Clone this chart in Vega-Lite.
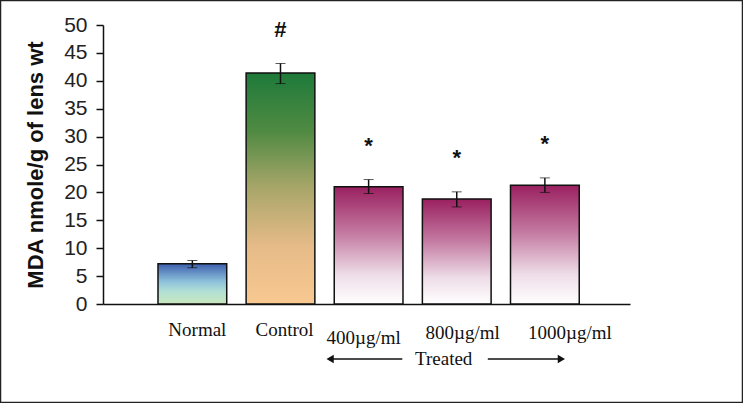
{
  "$schema": "https://vega.github.io/schema/vega-lite/v6.json",
  "width": 743,
  "height": 403,
  "autosize": {"type": "none"},
  "padding": 0,
  "background": "white",
  "config": {"view": {"stroke": "#222", "strokeWidth": 2.5}, "font": "Liberation Sans"},
  "data": {
    "values": [
      {"dose": "Normal", "group": "Normal", "mean": 7.2, "lo": 6.5, "hi": 7.8, "sig": ""},
      {"dose": "Control", "group": "Control", "mean": 41.4, "lo": 39.5, "hi": 43.1, "sig": "#"},
      {"dose": "400µg/ml", "group": "Treated", "mean": 21.0, "lo": 19.8, "hi": 22.3, "sig": "*"},
      {"dose": "800µg/ml", "group": "Treated", "mean": 18.8, "lo": 17.4, "hi": 20.1, "sig": "*"},
      {"dose": "1000µg/ml", "group": "Treated", "mean": 21.3, "lo": 20.0, "hi": 22.6, "sig": "*"}
    ]
  },
  "encoding": {
    "x": {
      "field": "dose",
      "type": "nominal",
      "sort": null,
      "scale": {"range": [103, 630], "paddingInner": 0.22, "paddingOuter": 0.6, "align": 0.52},
      "axis": {
        "orient": "bottom",
        "offset": -99,
        "title": null,
        "ticks": false,
        "labels": false,
        "domainColor": "#111",
        "domainWidth": 1.5
      }
    },
    "y": {
      "field": "mean",
      "type": "quantitative",
      "title": "MDA nmole/g of lens wt",
      "scale": {"domain": [0, 50], "range": [304, 25], "nice": false},
      "axis": {
        "values": [0, 5, 10, 15, 20, 25, 30, 35, 40, 45, 50],
        "offset": -103,
        "grid": false,
        "domainColor": "#111",
        "domainWidth": 1.5,
        "tickColor": "#111",
        "tickWidth": 1.5,
        "tickSize": 7,
        "labelFont": "Liberation Sans",
        "labelFontSize": 21,
        "labelColor": "#222",
        "labelPadding": 9,
        "title": "MDA nmole/g of lens wt",
        "titleFont": "Liberation Sans",
        "titleFontSize": 22,
        "titleFontWeight": "bold",
        "titleColor": "#111",
        "titlePadding": 16
      }
    }
  },
  "layer": [
    {
      "transform": [{"filter": "datum.group == 'Normal'"}],
      "mark": {
        "type": "bar",
        "stroke": "#111",
        "strokeWidth": 1.5,
        "fill": {
          "gradient": "linear", "x1": 0, "y1": 0, "x2": 0, "y2": 1,
          "stops": [
            {"offset": 0, "color": "#3d5fae"},
            {"offset": 0.45, "color": "#8fc3dc"},
            {"offset": 0.7, "color": "#b3e0d4"},
            {"offset": 1, "color": "#c8e6bd"}
          ]
        }
      }
    },
    {
      "transform": [{"filter": "datum.group == 'Control'"}],
      "mark": {
        "type": "bar",
        "stroke": "#111",
        "strokeWidth": 1.5,
        "fill": {
          "gradient": "linear", "x1": 0, "y1": 0, "x2": 0, "y2": 1,
          "stops": [
            {"offset": 0, "color": "#1e7a3a"},
            {"offset": 0.25, "color": "#4f8a42"},
            {"offset": 0.5, "color": "#a9a66a"},
            {"offset": 0.75, "color": "#e6bb88"},
            {"offset": 1, "color": "#f8c890"}
          ]
        }
      }
    },
    {
      "transform": [{"filter": "datum.group == 'Treated'"}],
      "mark": {
        "type": "bar",
        "stroke": "#111",
        "strokeWidth": 1.5,
        "fill": {
          "gradient": "linear", "x1": 0, "y1": 0, "x2": 0, "y2": 1,
          "stops": [
            {"offset": 0, "color": "#9a2060"},
            {"offset": 0.4, "color": "#c47ba2"},
            {"offset": 0.75, "color": "#eedde8"},
            {"offset": 1, "color": "#ffffff"}
          ]
        }
      }
    },
    {
      "mark": {
        "type": "errorbar",
        "ticks": {"size": 10, "color": "#111", "strokeWidth": 1.5},
        "rule": {"color": "#111", "strokeWidth": 1.5}
      },
      "encoding": {
        "y": {"field": "lo", "type": "quantitative", "title": "MDA nmole/g of lens wt"},
        "y2": {"field": "hi"}
      }
    },
    {
      "mark": {"type": "text", "dy": -34, "fontSize": 22, "fontWeight": "bold", "font": "Liberation Sans", "baseline": "middle", "color": "#111"},
      "encoding": {
        "y": {"field": "hi", "type": "quantitative", "title": "MDA nmole/g of lens wt"},
        "text": {"field": "sig"}
      }
    },
    {
      "transform": [{"filter": "datum.dose == 'Normal'"}],
      "mark": {"type": "text", "font": "Liberation Serif", "fontSize": 19, "baseline": "alphabetic", "align": "center", "color": "#111", "dx": 5, "dy": 32},
      "encoding": {"y": {"datum": 0}, "text": {"field": "dose"}}
    },
    {
      "transform": [{"filter": "datum.dose == 'Control'"}],
      "mark": {"type": "text", "font": "Liberation Serif", "fontSize": 19, "baseline": "alphabetic", "align": "center", "color": "#111", "dx": 4, "dy": 32},
      "encoding": {"y": {"datum": 0}, "text": {"field": "dose"}}
    },
    {
      "transform": [{"filter": "datum.dose == '400µg/ml'"}],
      "mark": {"type": "text", "font": "Liberation Serif", "fontSize": 19, "baseline": "alphabetic", "align": "center", "color": "#111", "dx": -5, "dy": 40},
      "encoding": {"y": {"datum": 0}, "text": {"field": "dose"}}
    },
    {
      "transform": [{"filter": "datum.dose == '800µg/ml'"}],
      "mark": {"type": "text", "font": "Liberation Serif", "fontSize": 19, "baseline": "alphabetic", "align": "center", "color": "#111", "dx": 6, "dy": 35},
      "encoding": {"y": {"datum": 0}, "text": {"field": "dose"}}
    },
    {
      "transform": [{"filter": "datum.dose == '1000µg/ml'"}],
      "mark": {"type": "text", "font": "Liberation Serif", "fontSize": 19, "baseline": "alphabetic", "align": "center", "color": "#111", "dx": 25, "dy": 35},
      "encoding": {"y": {"datum": 0}, "text": {"field": "dose"}}
    },
    {
      "transform": [{"filter": "datum.dose == '800µg/ml'"}],
      "mark": {"type": "text", "font": "Liberation Serif", "fontSize": 19, "baseline": "middle", "align": "center", "color": "#111"},
      "encoding": {
        "x": {"field": "dose", "type": "nominal", "bandPosition": 0.31},
        "y": {"datum": -9.9},
        "text": {"value": "Treated"}
      }
    },
    {
      "transform": [{"filter": "datum.dose == '400µg/ml'"}],
      "mark": {"type": "rule", "color": "#111", "strokeWidth": 1.5},
      "encoding": {
        "x": {"field": "dose", "type": "nominal", "bandPosition": -0.06},
        "x2": {"field": "dose", "bandPosition": 0.99},
        "y": {"datum": -9.86}
      }
    },
    {
      "transform": [{"filter": "datum.dose == '1000µg/ml'"}],
      "mark": {"type": "rule", "color": "#111", "strokeWidth": 1.5},
      "encoding": {
        "x": {"field": "dose", "type": "nominal", "bandPosition": -0.33},
        "x2": {"field": "dose", "bandPosition": 0.74},
        "y": {"datum": -9.86}
      }
    },
    {
      "transform": [{"filter": "datum.dose == '400µg/ml'"}],
      "mark": {"type": "point", "shape": "triangle-left", "filled": true, "size": 70, "color": "#111", "opacity": 1},
      "encoding": {
        "x": {"field": "dose", "type": "nominal", "bandPosition": -0.06},
        "y": {"datum": -9.86}
      }
    },
    {
      "transform": [{"filter": "datum.dose == '1000µg/ml'"}],
      "mark": {"type": "point", "shape": "triangle-right", "filled": true, "size": 70, "color": "#111", "opacity": 1},
      "encoding": {
        "x": {"field": "dose", "type": "nominal", "bandPosition": 0.74},
        "y": {"datum": -9.86}
      }
    }
  ]
}
